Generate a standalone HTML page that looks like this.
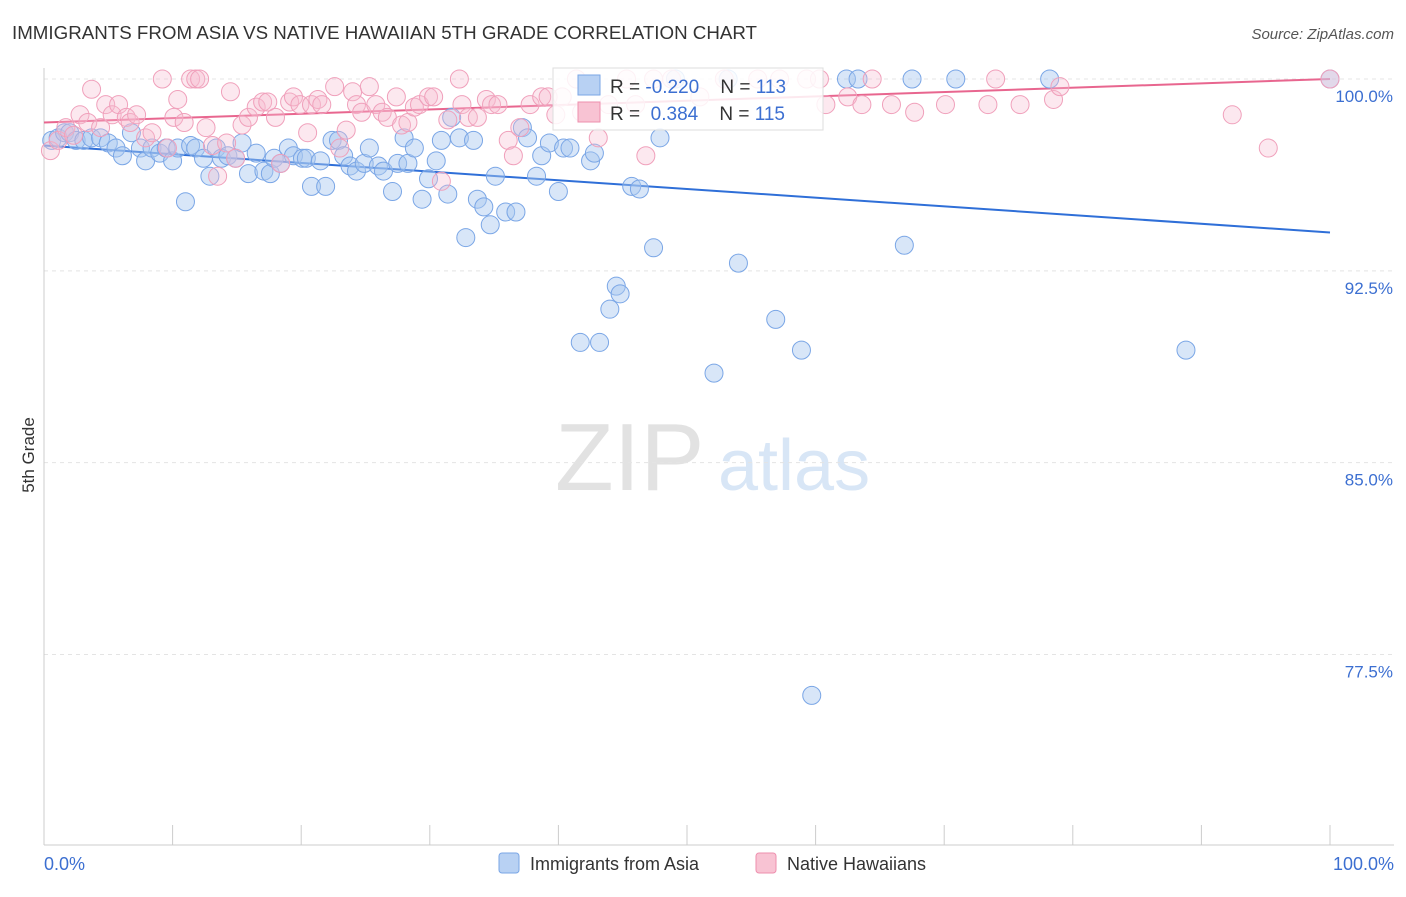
<!DOCTYPE html>
<html><head><meta charset="utf-8"><style>
body{margin:0;background:#fff;font-family:"Liberation Sans",sans-serif;}
svg text{font-family:"Liberation Sans",sans-serif;}
</style></head><body>
<svg id="chart" width="1406" height="892">
<text x="12" y="39" font-size="18.5" fill="#333" textLength="745" lengthAdjust="spacingAndGlyphs">IMMIGRANTS FROM ASIA VS NATIVE HAWAIIAN 5TH GRADE CORRELATION CHART</text>
<text x="1394" y="39" font-size="15" fill="#555" text-anchor="end" font-style="italic">Source: ZipAtlas.com</text>
<text x="34" y="455" font-size="17" fill="#333" transform="rotate(-90 34 455)" text-anchor="middle">5th Grade</text>
<text x="555" y="490" font-size="96" fill="#e2e2e2" font-family="Liberation Serif">ZIP</text>
<text x="718" y="490" font-size="72" fill="#d8e6f6">atlas</text>
<g id="grid"></g><g id="axes"></g><g id="trend"></g><g id="pts"></g>
<g>
<rect x="553" y="68" width="270" height="62" fill="#fff" fill-opacity="0.85" stroke="#ddd"/>
<rect x="578" y="75" width="22" height="20" fill="#b8d1f3" stroke="#7aa6e6"/>
<text x="610" y="93" font-size="19" fill="#333" xml:space="preserve">R = <tspan fill="#3c6fd1">-0.220</tspan>    N = <tspan fill="#3c6fd1">113</tspan></text>
<rect x="578" y="102" width="22" height="20" fill="#f8c3d3" stroke="#ee8fae"/>
<text x="610" y="120" font-size="19" fill="#333" xml:space="preserve">R =  <tspan fill="#3c6fd1">0.384</tspan>    N = <tspan fill="#3c6fd1">115</tspan></text>
</g>
<g>
<rect x="499" y="853" width="20" height="20" fill="#b8d1f3" stroke="#7aa6e6" rx="3"/>
<text x="530" y="870" font-size="18" fill="#333">Immigrants from Asia</text>
<rect x="756" y="853" width="20" height="20" fill="#f8c3d3" stroke="#ee8fae" rx="3"/>
<text x="787" y="870" font-size="18" fill="#333">Native Hawaiians</text>
</g>
</svg>
<script>
const yTicks=[100,92.5,85,77.5];
const yTickLabels=["100.0%","92.5%","85.0%","77.5%"];
const asiaX=[0.6,1.1,1.6,2.0,2.5,3.1,3.7,4.4,5.0,5.6,6.1,6.8,7.5,7.9,8.4,9.0,9.5,10.0,10.4,11.0,11.4,11.8,12.4,12.9,13.4,13.8,14.3,14.9,15.4,15.9,16.5,17.1,17.6,17.9,18.4,19.0,19.4,20.1,20.4,20.8,21.5,21.9,22.4,22.9,23.3,23.8,24.3,24.9,25.3,26.0,26.4,27.1,27.5,28.0,28.3,28.8,29.4,29.9,30.5,30.9,31.4,31.7,32.3,32.8,33.4,33.7,34.2,34.7,35.1,35.9,36.7,37.2,37.6,38.3,38.7,39.3,40.0,40.4,40.9,41.7,42.5,42.8,43.2,44.0,44.5,44.8,45.7,46.3,47.4,47.9,49.1,52.1,53.2,54.0,56.9,58.9,59.7,62.4,63.3,66.9,67.5,70.9,78.2,88.8,100];
const asiaY=[97.6,97.7,97.9,97.9,97.6,97.6,97.7,97.7,97.5,97.3,97.0,97.9,97.3,96.8,97.3,97.1,97.3,96.8,97.3,95.2,97.4,97.3,96.9,96.2,97.3,96.9,97.0,96.9,97.5,96.3,97.1,96.4,96.3,96.9,96.7,97.3,97.0,96.9,96.9,95.8,96.8,95.8,97.6,97.6,97.0,96.6,96.4,96.7,97.3,96.6,96.4,95.6,96.7,97.7,96.7,97.3,95.3,96.1,96.8,97.6,95.5,98.5,97.7,93.8,97.6,95.3,95.0,94.3,96.2,94.8,94.8,98.1,97.7,96.2,97.0,97.5,95.6,97.3,97.3,89.7,96.8,97.1,89.7,91.0,91.9,91.6,95.8,95.7,93.4,97.7,100,88.5,100,92.8,90.6,89.4,75.9,100,100,93.5,100,100,100,89.4,100];
const hawX=[0.5,1.1,1.7,2.3,2.8,3.4,3.7,4.4,4.8,5.3,5.8,6.4,6.7,7.2,7.9,8.4,9.2,9.6,10.1,10.4,10.9,11.4,11.8,12.1,12.6,13.1,13.5,14.2,14.5,14.9,15.4,15.9,16.5,17.0,17.4,18.0,18.4,19.1,19.4,19.9,20.5,20.8,21.3,21.6,22.6,23.0,23.5,24.0,24.3,24.7,25.3,25.8,26.3,26.7,27.4,27.8,28.3,28.8,29.2,29.9,30.3,30.9,31.4,32.3,32.5,33.0,33.7,34.4,34.8,35.3,36.1,36.5,37.0,37.8,38.7,39.2,39.8,40.3,41.4,41.8,43.1,43.9,45.3,46.0,46.8,47.4,48.8,51.0,52.9,55.5,57.2,59.3,60.3,60.8,62.5,63.6,64.4,65.9,67.7,70.1,73.4,74.0,75.9,78.5,79.0,92.4,95.2,100];
const hawY=[97.2,97.6,98.1,97.8,98.6,98.3,99.6,98.1,99.0,98.6,99.0,98.5,98.3,98.6,97.7,97.9,100,97.3,98.5,99.2,98.3,100,100,100,98.1,97.4,96.2,97.5,99.5,96.9,98.2,98.5,98.9,99.1,99.1,98.5,96.7,99.1,99.3,99.0,97.9,99.0,99.2,99.0,99.7,97.3,98.0,99.5,99.0,98.7,99.7,99.0,98.7,98.5,99.3,98.2,98.3,98.9,99.0,99.3,99.3,96.0,98.4,100,99.0,98.5,98.5,99.2,99.0,99.0,97.6,97.0,98.1,99.0,99.3,99.3,98.6,99.3,100,98.7,97.7,99.0,100,99.0,97.0,100,100,99.3,100,100,100,100,100,99.0,99.3,99.0,100,99.0,98.7,99.0,99.0,100,99.0,99.2,99.7,98.6,97.3,100];
const asiaTrend=[97.4,94.0];
const hawTrend=[98.3,100.0];
const X0=44,X1=1330,YT=79,YB=845,YMIN=70.05,YMAX=100;
const xs=v=>X0+(X1-X0)*v/100;
const ys=v=>YB-(YB-YT)*(v-YMIN)/(YMAX-YMIN);
const NS="http://www.w3.org/2000/svg";
function mk(tag,attrs,parent){const e=document.createElementNS(NS,tag);for(const k in attrs)e.setAttribute(k,attrs[k]);document.getElementById(parent).appendChild(e);return e;}
yTicks.forEach((t,i)=>{
 const l=mk('line',{x1:X0,x2:1394,y1:ys(t),y2:ys(t),stroke:'#e4e4e4','stroke-dasharray':'4,4'},'grid');
 
 
 const tx=mk('text',{x:1393,y:ys(t)+23,'font-size':17,fill:'#3c6fd1','text-anchor':'end'},'grid');
 tx.textContent=yTickLabels[i];
 
 
});
const a1=mk('line',{x1:X0,x2:X0,y1:68,y2:YB,stroke:'#ccc'},'axes');


const a2=mk('line',{x1:X0,x2:1394,y1:YB,y2:YB,stroke:'#ccc'},'axes');


for(let i=1;i<=10;i++){const t=mk('line',{x1:xs(i*10),x2:xs(i*10),y1:YB-20,y2:YB,stroke:'#ccc'},'axes');
 
 }
const xl0=mk('text',{x:44,y:870,'font-size':18,fill:'#3c6fd1'},'axes');xl0.textContent='0.0%';


const xl1=mk('text',{x:1394,y:870,'font-size':18,fill:'#3c6fd1','text-anchor':'end'},'axes');xl1.textContent='100.0%';


asiaX.forEach((x,i)=>{const c=mk('circle',{cx:xs(x),cy:ys(asiaY[i]),r:9,fill:'#a9c7f0','fill-opacity':0.45,stroke:'#7aa6e6','stroke-width':1},'pts');
 
 });
hawX.forEach((x,i)=>{const c=mk('circle',{cx:xs(x),cy:ys(hawY[i]),r:9,fill:'#f7bdd0','fill-opacity':0.35,stroke:'#f0a0bb','stroke-width':1},'pts');
 
 });
const t1=mk('line',{x1:xs(0),x2:xs(100),y1:ys(asiaTrend[0]),y2:ys(asiaTrend[1]),stroke:'#2f6fd8','stroke-width':2},'trend');


const t2=mk('line',{x1:xs(0),x2:xs(100),y1:ys(hawTrend[0]),y2:ys(hawTrend[1]),stroke:'#e8668f','stroke-width':2},'trend');


</script>
</body></html>
